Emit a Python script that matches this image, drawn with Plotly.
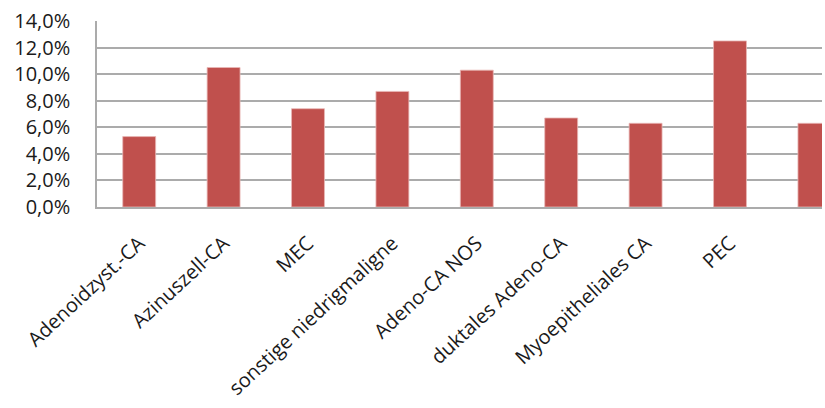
import plotly.graph_objects as go

# Tumour subtypes and their share (fraction of cases)
categories = [
    "Adenoidzyst.-CA",
    "Azinuszell-CA",
    "MEC",
    "sonstige niedrigmaligne",
    "Adeno-CA NOS",
    "duktales Adeno-CA",
    "Myoepitheliales CA",
    "PEC",
    "sonstige hochmaligne",
]
shares = [0.053, 0.105, 0.074, 0.087, 0.103, 0.067, 0.063, 0.125, 0.063]
y_ticks = [0.0, 0.02, 0.04, 0.06, 0.08, 0.10, 0.12, 0.14]

BAR_RED = "#C0504D"
GRID = "#ABABAB"
FONT = "Open Sans"

fig = go.Figure(
    go.Bar(
        x=list(range(len(categories))),
        y=shares,
        width=0.39,
        marker=dict(color=BAR_RED, line=dict(color="#E8B8B6", width=0.8)),
        hoverinfo="skip",
    )
)

fig.update_layout(
    width=825,
    height=408,
    margin=dict(l=97, r=3, t=21, b=201, pad=0, autoexpand=False),
    paper_bgcolor="white",
    plot_bgcolor="white",
    separators=",.",
    showlegend=False,
    font=dict(family=FONT, size=20, color="#1a1a1a"),
)

fig.update_xaxes(
    range=[-0.5, 8.09],
    tickmode="array",
    tickvals=list(range(len(categories))),
    ticktext=categories,
    tickangle=-43,
    ticks="",
    ticklabelstandoff=15,
    automargin=False,
    showgrid=False,
    showline=True,
    linecolor=GRID,
    linewidth=1.5,
    tickfont=dict(family=FONT, size=20),
)

fig.update_yaxes(
    range=[0, 0.14],
    tickmode="array",
    tickvals=y_ticks,
    tickformat=".1%",
    ticks="",
    ticklabelstandoff=21,
    automargin=False,
    showgrid=True,
    gridcolor=GRID,
    gridwidth=1.5,
    showline=True,
    linecolor=GRID,
    linewidth=1.5,
    zeroline=False,
    tickfont=dict(family=FONT, size=20),
)

fig.write_html("out.html")
